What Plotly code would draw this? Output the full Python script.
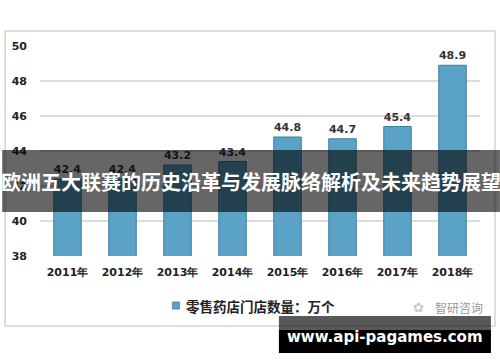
import plotly.graph_objects as go

years = ["2011年", "2012年", "2013年", "2014年", "2015年", "2016年", "2017年", "2018年"]
values = [42.4, 42.4, 43.2, 43.4, 44.8, 44.7, 45.4, 48.9]
y_ticks = [38, 40, 42, 44, 46, 48, 50]
series_name = "零售药店门店数量：万个"
title_text = "欧洲五大联赛的历史沿革与发展脉络解析及未来趋势展望"
site_text = "www.api-pagames.com"
source_text = "智研咨询"

W, H = 500, 362
L, R, T, B = 38, 20, 46, 106
pw, ph = W - L - R, H - T - B

def px(X):
    return (X - L) / pw

def py(Y):
    return (H - B - Y) / ph

font_main = "Noto Sans CJK SC, DejaVu Sans, sans-serif"
bar_color = "#5aa2c6"

fig = go.Figure()
fig.add_trace(go.Bar(
    x=years, y=values, name=series_name,
    width=0.5,
    marker=dict(color=bar_color, line=dict(color="#3c7fa0", width=1)),
    text=[f"{v:.1f}" for v in values], textposition="outside",
    textfont=dict(family="DejaVu Sans, sans-serif", size=11, color="#333333", weight="bold"),
    cliponaxis=False, showlegend=False, hoverinfo="skip",
))

fig.update_layout(
    width=W, height=H,
    margin=dict(l=L, r=R, t=T, b=B),
    paper_bgcolor="white", plot_bgcolor="white",
    xaxis=dict(showgrid=False, showline=False, ticks="", ticklabelstandoff=8,
               tickfont=dict(family="DejaVu Sans, sans-serif", size=11, color="#222222", weight="bold")),
    yaxis=dict(range=[38, 50], tickvals=y_ticks, showgrid=True, gridcolor="#dcdcdc", gridwidth=1.5,
               zeroline=False, showline=False, ticks="", ticklabelstandoff=12,
               tickfont=dict(family="DejaVu Sans, sans-serif", size=11, color="#222222", weight="bold")),
)

shapes = [
    # chart frame
    dict(type="rect", xref="paper", yref="paper", x0=px(3), x1=px(495), y0=py(326), y1=py(31),
         line=dict(color="#d4d4d4", width=1.5), fillcolor="rgba(0,0,0,0)", layer="below"),
    # legend swatch
    dict(type="rect", xref="paper", yref="paper", x0=px(171), x1=px(178), y0=py(309), y1=py(302),
         line=dict(color="#3c7fa0", width=0.8), fillcolor=bar_color, layer="above"),
    # dark overlay band
    dict(type="rect", xref="paper", yref="paper", x0=px(0), x1=px(500), y0=py(212), y1=py(150),
         line=dict(width=0), fillcolor="rgba(0,0,0,0.6)", layer="above"),
    # bottom grey band
    dict(type="rect", xref="paper", yref="paper", x0=px(278), x1=px(491), y0=py(330), y1=py(316),
         line=dict(width=0), fillcolor="rgba(0,0,0,0.65)", layer="above"),
    # bottom black box
    dict(type="rect", xref="paper", yref="paper", x0=px(278), x1=px(491), y0=py(353), y1=py(330),
         line=dict(width=0), fillcolor="#000000", layer="above"),
]
fig.update_layout(shapes=shapes)

fig.add_annotation(x=px(183), y=py(306), xref="paper", yref="paper", text=series_name,
                   showarrow=False, xanchor="left", yanchor="middle",
                   font=dict(family=font_main, size=13.5, color="#222222", weight="bold"))
fig.add_annotation(x=px(250), y=py(181), xref="paper", yref="paper", text=title_text,
                   showarrow=False, xanchor="center", yanchor="middle",
                   font=dict(family=font_main, size=20, color="white", weight="bold"))
fig.add_annotation(x=px(385), y=py(337), xref="paper", yref="paper", text=site_text,
                   showarrow=False, xanchor="center", yanchor="middle",
                   font=dict(family="DejaVu Sans, sans-serif", size=15, color="white", weight="bold"))
fig.add_annotation(x=px(433), y=py(307), xref="paper", yref="paper", text=source_text,
                   showarrow=False, xanchor="left", yanchor="middle",
                   font=dict(family=font_main, size=12, color="#999999"))
fig.add_annotation(x=px(418), y=py(307), xref="paper", yref="paper", text="✿",
                   showarrow=False, xanchor="center", yanchor="middle",
                   font=dict(family="DejaVu Sans, sans-serif", size=13, color="#c8c8c8"))

fig.write_html("out.html", config={"displayModeBar": False},
               post_script="document.body.style.margin='0px';document.body.style.padding='0px';")
